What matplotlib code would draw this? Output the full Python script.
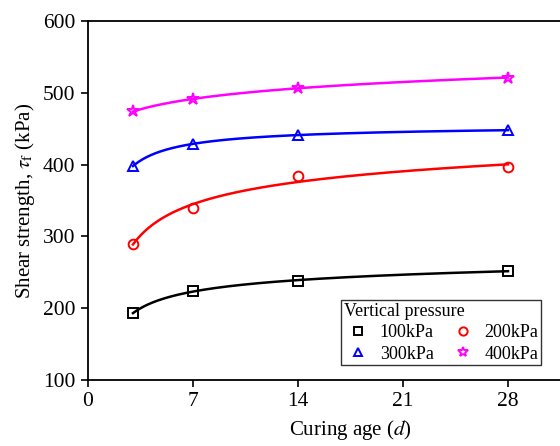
import numpy as np
import matplotlib
matplotlib.use("Agg")
import matplotlib.pyplot as plt

plt.rcParams['font.family'] = ['Liberation Serif', 'DejaVu Serif']
plt.rcParams['mathtext.fontset'] = 'stix'

days = [3, 7, 14, 28]
labels = ['100kPa', '200kPa', '300kPa', '400kPa']
s100 = [193, 224, 238, 252]
s200 = [290, 339, 384, 397]
s300 = [398, 429, 441, 448]
s400 = [474, 491, 507, 521]
colors = ['black', 'red', 'blue', 'magenta']
markers = ['s', 'o', '^', '*']
xticks = [0, 7, 14, 21, 28]
yticks = [100, 200, 300, 400, 500, 600]

fig = plt.figure(figsize=(5.6, 4.46), dpi=100)
ax = fig.add_axes([88/560, 66/446, 525/560, 359/446])

t = np.array(days, float)
tt = np.linspace(3, 28, 300)
handles = []
for ys, c, m, lab in zip([s100, s200, s300, s400], colors, markers, labels):
    y = np.array(ys, float)
    A = np.column_stack([np.ones_like(t), np.log(t), 1/t])
    coef, *_ = np.linalg.lstsq(A, y, rcond=None)
    yy = coef[0] + coef[1]*np.log(tt) + coef[2]/tt
    ax.plot(tt, yy, color=c, lw=1.8, zorder=2)
    ms = 9 if m == '*' else 7
    h, = ax.plot(days, ys, ls='none', marker=m, ms=ms, mfc='none', mec=c, mew=1.4, zorder=3, label=lab)
    handles.append(h)

ax.set_xlim(0, 35)
ax.set_ylim(100, 600)
ax.set_xticks(xticks)
ax.set_yticks(yticks)
ax.tick_params(direction='out', length=5, width=1.2, labelsize=15.5, colors='black', pad=4)
ax.spines['right'].set_visible(False)
for s in ['left', 'bottom', 'top']:
    ax.spines[s].set_linewidth(1.3)
ax.set_xlabel('Curing age ($d$)', fontsize=15, labelpad=5)
ax.set_ylabel(r'Shear strength, $\tau_\mathrm{f}$ (kPa)', fontsize=15, labelpad=4)

leg = ax.legend(handles=[handles[0], handles[2], handles[1], handles[3]],
                labels=[labels[0], labels[2], labels[1], labels[3]],
                ncol=2, title='Vertical pressure', fontsize=13, title_fontsize=13,
                loc='upper left', bbox_to_anchor=(341/560, 1-300/446), bbox_transform=fig.transFigure,
                borderaxespad=0, frameon=True, fancybox=False, edgecolor='black',
                handletextpad=0.4, columnspacing=0.8, borderpad=0.15, labelspacing=0.25,
                handlelength=1.6, markerscale=0.85)
leg._legend_box.align = 'left'
leg.get_frame().set_linewidth(1.0)

fig.savefig('out.png', dpi=100)
